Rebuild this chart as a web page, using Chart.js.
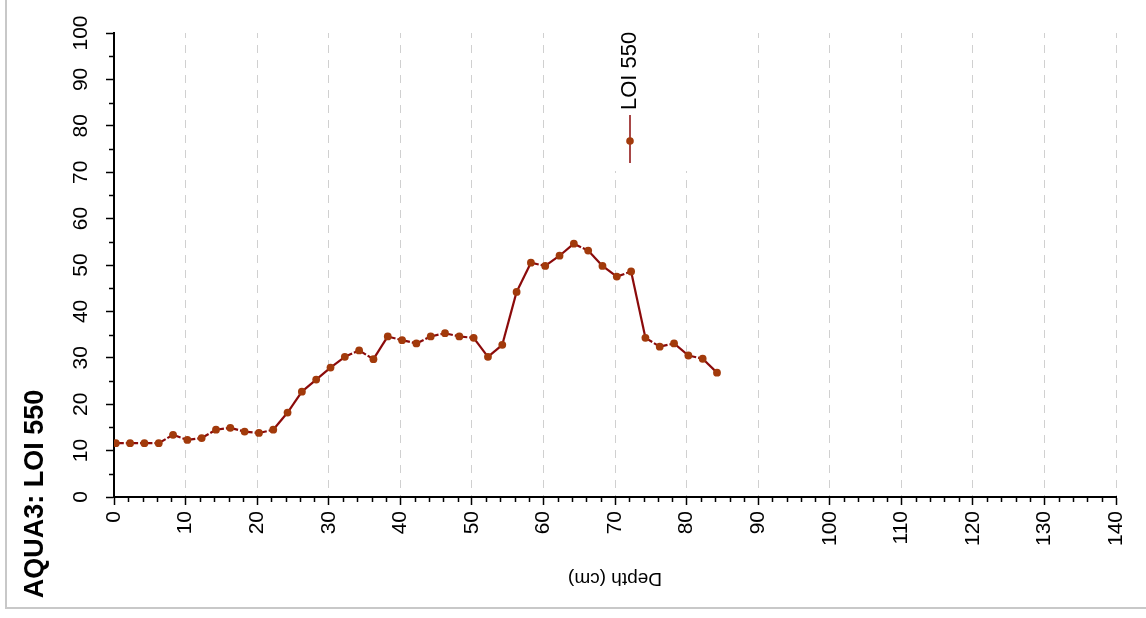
<!DOCTYPE html>
<html>
<head>
<meta charset="utf-8">
<title>AQUA3: LOI 550</title>
<script src="https://cdn.jsdelivr.net/npm/chart.js@4.4.0/dist/chart.umd.min.js"></script>
<style>
  html, body { margin: 0; padding: 0; background: #fff; }
  #wrap { width: 1146px; height: 618px; position: relative; }
  canvas { display: block; }
</style>
</head>
<body>
<div id="wrap"><canvas id="chart" width="1146" height="618"></canvas></div>
<script>
// Core AQUA3 — loss on ignition at 550 °C against depth
const chartTitle = 'AQUA3: LOI 550';
const seriesName = 'LOI 550';
const xAxisTitle = 'Depth (cm)';

const depthCm = [
  0.25, 2.25, 4.25, 6.25, 8.25, 10.25, 12.25, 14.25, 16.25, 18.25,
  20.25, 22.25, 24.25, 26.25, 28.25, 30.25, 32.25, 34.25, 36.25, 38.25,
  40.25, 42.25, 44.25, 46.25, 48.25, 50.25, 52.25, 54.25, 56.25, 58.25,
  60.25, 62.25, 64.25, 66.25, 68.25, 70.25, 72.25, 74.25, 76.25, 78.25,
  80.25, 82.25, 84.25
];
const loi550 = [
  11.6, 11.6, 11.6, 11.6, 13.4, 12.3, 12.7, 14.5, 14.9, 14.1,
  13.8, 14.5, 18.2, 22.7, 25.3, 27.9, 30.2, 31.6, 29.7, 34.6,
  33.8, 33.1, 34.6, 35.3, 34.6, 34.3, 30.2, 32.8, 44.2, 50.5,
  49.8, 52.0, 54.6, 53.1, 49.8, 47.5, 48.6, 34.3, 32.4, 33.1,
  30.5, 29.8, 26.8
];

const xTickValues = [0, 10, 20, 30, 40, 50, 60, 70, 80, 90, 100, 110, 120, 130, 140];
const xMinorTicks = [2, 4, 6, 8, 12, 14, 16, 18, 22, 24, 26, 28, 32, 34, 36, 38, 42, 44, 46, 48,
  52, 54, 56, 58, 62, 64, 66, 68, 72, 74, 76, 78, 82, 84, 86, 88, 92, 94, 96, 98,
  102, 104, 106, 108, 112, 114, 116, 118, 122, 124, 126, 128, 132, 134, 136, 138];
const yTickValues = [0, 10, 20, 30, 40, 50, 60, 70, 80, 90, 100];
const yMinorTicks = [5, 15, 25, 35, 45, 55, 65, 75, 85, 95];

const FONT = "'Liberation Sans', Arial, Helvetica, sans-serif";
const LINE_COLOR = '#8b0a0a';
const MARKER_COLOR = '#a23a0b';

// White page with a light grey frame
const framePlugin = {
  id: 'frame',
  beforeDraw(chart) {
    const ctx = chart.ctx;
    ctx.save();
    ctx.fillStyle = '#fff';
    ctx.fillRect(0, 0, chart.width, chart.height);
    ctx.strokeStyle = '#c8c8c8';
    ctx.lineWidth = 2;
    ctx.strokeRect(6, -10, chart.width + 20, 618);
    ctx.restore();
  }
};

// Minor ticks, rotated y labels, titles and legend
const decorPlugin = {
  id: 'decor',
  beforeDatasetsDraw(chart) {
    const ctx = chart.ctx;
    const xs = chart.scales.x;
    const area = chart.chartArea;

    // legend box sits on top of the grid
    const lx = xs.getPixelForValue(72.3);
    ctx.save();
    ctx.fillStyle = '#fff';
    ctx.fillRect(lx - 60, area.top - 4, 126, 142);
    ctx.restore();
  },
  afterDraw(chart) {
    const ctx = chart.ctx;
    const xs = chart.scales.x, ys = chart.scales.y;
    const area = chart.chartArea;

    ctx.save();
    ctx.strokeStyle = '#000';
    ctx.lineWidth = 1.5;
    ctx.beginPath();
    xMinorTicks.forEach(v => {
      const px = Math.round(xs.getPixelForValue(v)) + 0.5;
      ctx.moveTo(px, area.bottom);
      ctx.lineTo(px, area.bottom + 5);
    });
    yMinorTicks.forEach(v => {
      const py = Math.round(ys.getPixelForValue(v)) + 0.5;
      ctx.moveTo(area.left, py);
      ctx.lineTo(area.left - 5, py);
    });
    ctx.stroke();

    // y tick labels, reading upwards
    ctx.fillStyle = '#000';
    ctx.font = `21px ${FONT}`;
    ctx.textAlign = 'center';
    ctx.textBaseline = 'alphabetic';
    yTickValues.forEach(v => {
      ctx.save();
      ctx.translate(86.5, ys.getPixelForValue(v));
      ctx.rotate(-Math.PI / 2);
      ctx.fillText(String(v), 0, 0);
      ctx.restore();
    });

    // chart title along the left edge
    ctx.save();
    ctx.font = `bold 27px ${FONT}`;
    ctx.translate(43, 494);
    ctx.rotate(-Math.PI / 2);
    ctx.textAlign = 'center';
    ctx.fillText(chartTitle, 0, 0);
    ctx.restore();

    // x axis title, upside down
    ctx.save();
    ctx.font = `19px ${FONT}`;
    ctx.translate((area.left + area.right) / 2, 573);
    ctx.rotate(Math.PI);
    ctx.textAlign = 'center';
    ctx.fillText(xAxisTitle, 0, 0);
    ctx.restore();

    // legend: vertical sample line with marker and rotated label
    const lx = 630;
    ctx.save();
    ctx.strokeStyle = LINE_COLOR;
    ctx.lineWidth = 1.5;
    ctx.beginPath();
    ctx.moveTo(lx, 115);
    ctx.lineTo(lx, 163);
    ctx.stroke();
    ctx.fillStyle = MARKER_COLOR;
    ctx.beginPath();
    ctx.arc(lx, 141, 3.8, 0, Math.PI * 2);
    ctx.fill();
    ctx.fillStyle = '#000';
    ctx.font = `22px ${FONT}`;
    ctx.translate(636, 110);
    ctx.rotate(-Math.PI / 2);
    ctx.textAlign = 'left';
    ctx.fillText(seriesName, 0, 0);
    ctx.restore();

    ctx.restore();
  }
};

const segLength = c => Math.hypot(c.p1.x - c.p0.x, c.p1.y - c.p0.y);

new Chart(document.getElementById('chart'), {
  type: 'line',
  data: {
    datasets: [{
      label: seriesName,
      data: depthCm.map((d, i) => ({ x: d, y: loi550[i] })),
      borderColor: LINE_COLOR,
      borderWidth: 2.2,
      pointRadius: 3.9,
      pointBackgroundColor: MARKER_COLOR,
      pointBorderColor: MARKER_COLOR,
      pointBorderWidth: 0,
      fill: false,
      tension: 0,
      segment: {
        borderDash: c => segLength(c) < 17.5 ? [8, 2, 100] : [],
        borderDashOffset: c => (c.p0DataIndex % 2) ? 0.001 : 0
      }
    }]
  },
  options: {
    responsive: false,
    animation: false,
    devicePixelRatio: 1,
    layout: { padding: { top: 33, right: 30, bottom: 0, left: 0 } },
    plugins: {
      legend: { display: false },
      title: { display: false },
      tooltip: { enabled: false }
    },
    scales: {
      x: {
        type: 'linear',
        min: 0,
        max: 140,
        afterBuildTicks: s => { s.ticks = xTickValues.map(v => ({ value: v })); },
        afterFit: s => { s.height = 121; s.paddingLeft = 0; s.paddingRight = 0; },
        ticks: {
          autoSkip: false,
          minRotation: 90,
          maxRotation: 90,
          padding: 6,
          color: '#000',
          font: { family: FONT, size: 21 }
        },
        grid: {
          color: c => (c.tick && c.tick.value === 0) ? 'rgba(0,0,0,0)' : '#d0d0d0',
          lineWidth: 1,
          tickColor: '#000',
          tickLength: 8,
          tickWidth: 1.5
        },
        border: { color: '#000', width: 2, dash: [8, 7], dashOffset: 3 }
      },
      y: {
        type: 'linear',
        min: 0,
        max: 100,
        afterBuildTicks: s => { s.ticks = yTickValues.map(v => ({ value: v })); },
        afterFit: s => { s.width = 114; s.paddingTop = 0; s.paddingBottom = 0; },
        ticks: { display: false },
        grid: {
          drawOnChartArea: false,
          tickColor: '#000',
          tickLength: 8,
          tickWidth: 1.5
        },
        border: { color: '#000', width: 2 }
      }
    }
  },
  plugins: [framePlugin, decorPlugin]
});
</script>
</body>
</html>
